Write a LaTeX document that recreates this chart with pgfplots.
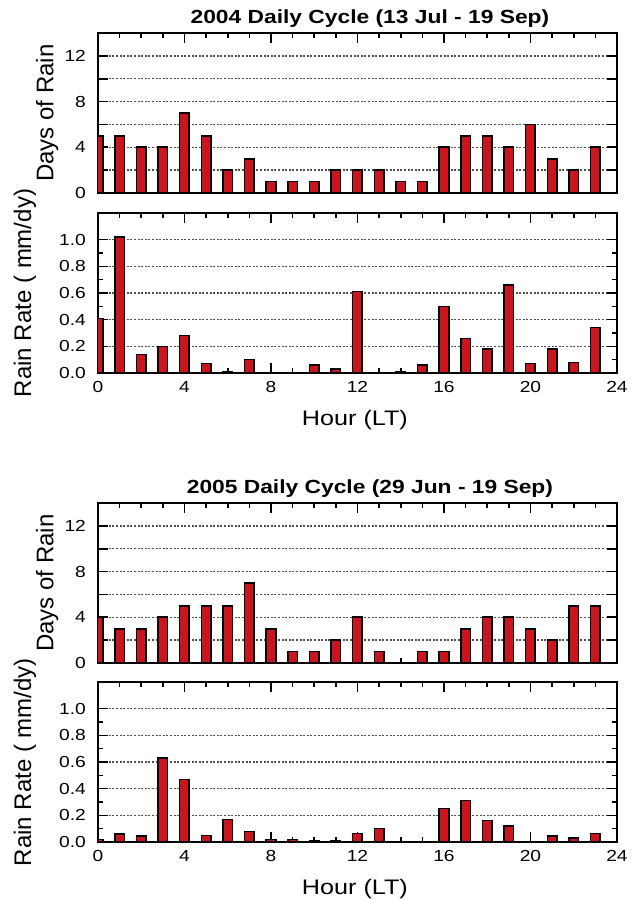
\documentclass[border=0pt]{standalone}
\usepackage{fontspec}
\setmainfont{Liberation Sans}
\usepackage{pgfplots}
\pgfplotsset{compat=1.18}
\definecolor{barred}{RGB}{202,20,30}
\definecolor{gridgray}{RGB}{80,80,80}

\pgfplotsset{
  every axis title shift=0pt,
  panel/.style={
    scale only axis, width=259.5pt, height=80pt,
    xmin=0, xmax=24, xtick={0,4,...,24}, minor x tick num=3,
    tick pos=both, xtick align=inside, ytick align=inside,
    axis line style={line width=1pt},
    every tick/.style={black, line width=0.8pt},
    major tick length=5pt, minor tick length=2.5pt,
    ymajorgrids, grid style={dash pattern=on 1pt off 0.8pt, gridgray, line width=0.7pt},
    /pgf/number format/assume math mode=true,
    tick label style={font=\fontsize{8}{9}\selectfont, xscale=1.2},
    xticklabel style={yshift=-0.5pt},
    yticklabel style={xshift=-1.5pt},
    title style={at={(axis description cs:0.524,1)}, anchor=center, yshift=7pt,
      font=\fontsize{9.5}{11}\selectfont\bfseries, xscale=1.2},
    xlabel style={at={(axis description cs:0.495,0)}, anchor=center, yshift=-23.5pt,
      font=\fontsize{10.5}{12}\selectfont, xscale=1.2},
  },
  days/.style={panel, ymin=0, ymax=14, ytick={0,2,4,6,8,10,12},
    yticklabels={0,,4,,8,,12}, xticklabel=\empty,
    ylabel={Days of Rain},
    ylabel style={at={(axis description cs:-0.098,0.5)}, anchor=center,
      font=\fontsize{12}{14}\selectfont}},
  rate/.style={panel, ymin=0, ymax=1.2, ytick={0,0.2,0.4,0.6,0.8,1.0}, minor y tick num=1,
    yticklabel style={/pgf/number format/.cd, fixed, fixed zerofill, precision=1},
    xlabel={Hour (LT)},
    ylabel={Rain Rate ( mm/dy)},
    ylabel style={at={(axis description cs:-0.1407,0.5)}, anchor=center,
      font=\fontsize{12}{14}\selectfont}},
  rain/.style={ybar, bar width=4.8pt, bar shift=0pt, fill=barred, draw=black, line width=0.8pt},
}

\begin{document}
\begin{tikzpicture}
\useasboundingbox (0,0) rectangle (318.5pt,450pt);

% 2004 days of rain
\begin{axis}[days, at={(49pt,353.5pt)}, anchor=south west,
  title={2004 Daily Cycle (13 Jul - 19 Sep)}]
\addplot[rain] coordinates {(0,5) (1,5) (2,4) (3,4) (4,7) (5,5) (6,2) (7,3) (8,1) (9,1) (10,1) (11,2)
  (12,2) (13,2) (14,1) (15,1) (16,4) (17,5) (18,5) (19,4) (20,6) (21,3) (22,2) (23,4)};
\end{axis}

% 2004 rain rate
\begin{axis}[rate, at={(49pt,263.5pt)}, anchor=south west]
\addplot[rain] coordinates {(0,0.41) (1,1.02) (2,0.14) (3,0.20) (4,0.28) (5,0.07) (6,0.01) (7,0.10)
  (8,0) (9,0) (10,0.06) (11,0.03) (12,0.61) (13,0) (14,0.01) (15,0.06) (16,0.50) (17,0.26)
  (18,0.18) (19,0.66) (20,0.07) (21,0.18) (22,0.08) (23,0.34)};
\end{axis}

% 2005 days of rain
\begin{axis}[days, at={(49pt,118.5pt)}, anchor=south west,
  title={2005 Daily Cycle (29 Jun - 19 Sep)}]
\addplot[rain] coordinates {(0,4) (1,3) (2,3) (3,4) (4,5) (5,5) (6,5) (7,7) (8,3) (9,1) (10,1) (11,2)
  (12,4) (13,1) (14,0) (15,1) (16,1) (17,3) (18,4) (19,4) (20,3) (21,2) (22,5) (23,5)};
\end{axis}

% 2005 rain rate
\begin{axis}[rate, at={(49pt,29pt)}, anchor=south west]
\addplot[rain] coordinates {(0,0.02) (1,0.06) (2,0.045) (3,0.63) (4,0.47) (5,0.05) (6,0.17) (7,0.08)
  (8,0.02) (9,0.02) (10,0.01) (11,0.01) (12,0.065) (13,0.10) (14,0) (15,0) (16,0.25) (17,0.31)
  (18,0.16) (19,0.12) (20,0.005) (21,0.045) (22,0.03) (23,0.065)};
\end{axis}
\end{tikzpicture}
\end{document}
